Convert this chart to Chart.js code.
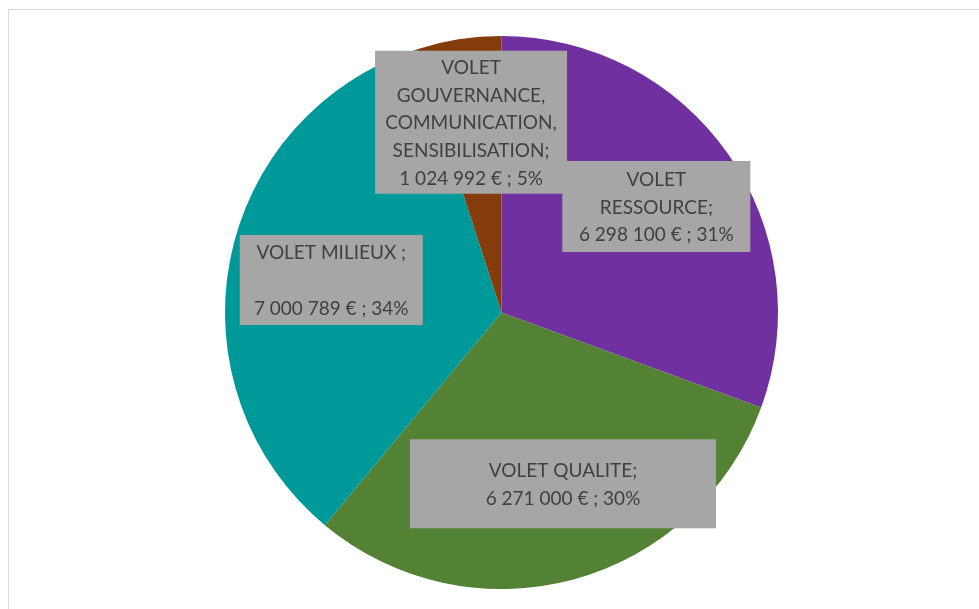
<!DOCTYPE html>
<html>
<head>
<meta charset="utf-8">
<script src="https://cdn.jsdelivr.net/npm/chart.js@4/dist/chart.umd.min.js"></script>
<style>
    html, body { margin: 0; padding: 0; background: #fff; overflow: hidden; }
    #frame { position: absolute; left: 8px; top: 9px; width: 2000px; height: 2000px; border-left: 1px solid #d9d9d9; border-top: 1px solid #d9d9d9; }
    #wrap { position: absolute; left: 0; top: 0; width: 979px; height: 609px; }
</style>
</head>
<body>
<div id="frame"></div>
<div id="wrap"><canvas id="pie-chart"></canvas></div>
<script>
// categories (already split the way the labels wrap)
const categories = [
    ["VOLET", "RESSOURCE;"],
    ["VOLET QUALITE;"],
    ["VOLET MILIEUX ;", ""],
    ["VOLET", "GOUVERNANCE,", "COMMUNICATION,", "SENSIBILISATION;"],
];
const amounts = [6298100, 6271000, 7000789, 1024992];
const sliceColors = ["#7030A0", "#548235", "#009999", "#843C0C"];

// label boxes: offset from slice centre, and box size
const boxOffsets = [[41.5, -26.8], [25.5, 37.8], [-34.5, -6.4], [-8.9, -53.7]];
const boxSizes = [[188, 91], [306, 89], [183, 90], [192, 143]];

function formatEuro(v) {
    return String(v).replace(/\B(?=(\d{3})+(?!\d))/g, " ") + " €";
}

const total = amounts.reduce((a, b) => a + b, 0);

const labelBoxes = {
    id: "labelBoxes",
    afterDatasetsDraw(chart) {
        const ctx = chart.ctx;
        const meta = chart.getDatasetMeta(0);
        ctx.save();
        ctx.font = "19px Lato";
        ctx.textAlign = "center";
        ctx.textBaseline = "middle";
        meta.data.forEach((arc, i) => {
            const p = arc.tooltipPosition();
            const cx = p.x + boxOffsets[i][0];
            const cy = p.y + boxOffsets[i][1];
            const w = boxSizes[i][0];
            const h = boxSizes[i][1];
            ctx.fillStyle = "#A6A6A6";
            ctx.fillRect(cx - w / 2, cy - h / 2, w, h);

            const pct = Math.round((amounts[i] / total) * 100);
            const lines = categories[i].concat([formatEuro(amounts[i]) + " ; " + pct + "%"]);
            const lh = 27.7;
            const y0 = cy + 1 - ((lines.length - 1) * lh) / 2;
            ctx.fillStyle = "#404040";
            lines.forEach((line, k) => ctx.fillText(line, cx, y0 + k * lh));
        });
        ctx.restore();
    },
};

new Chart(document.getElementById("pie-chart"), {
    type: "pie",
    data: {
        labels: categories,
        datasets: [{
            data: amounts,
            backgroundColor: sliceColors,
            borderWidth: 0,
        }],
    },
    options: {
        responsive: true,
        maintainAspectRatio: false,
        animation: false,
        layout: { padding: { left: 225, right: 201, top: 36, bottom: 20 } },
        plugins: {
            legend: { display: false },
            tooltip: { enabled: false },
        },
    },
    plugins: [labelBoxes],
});
</script>
</body>
</html>
